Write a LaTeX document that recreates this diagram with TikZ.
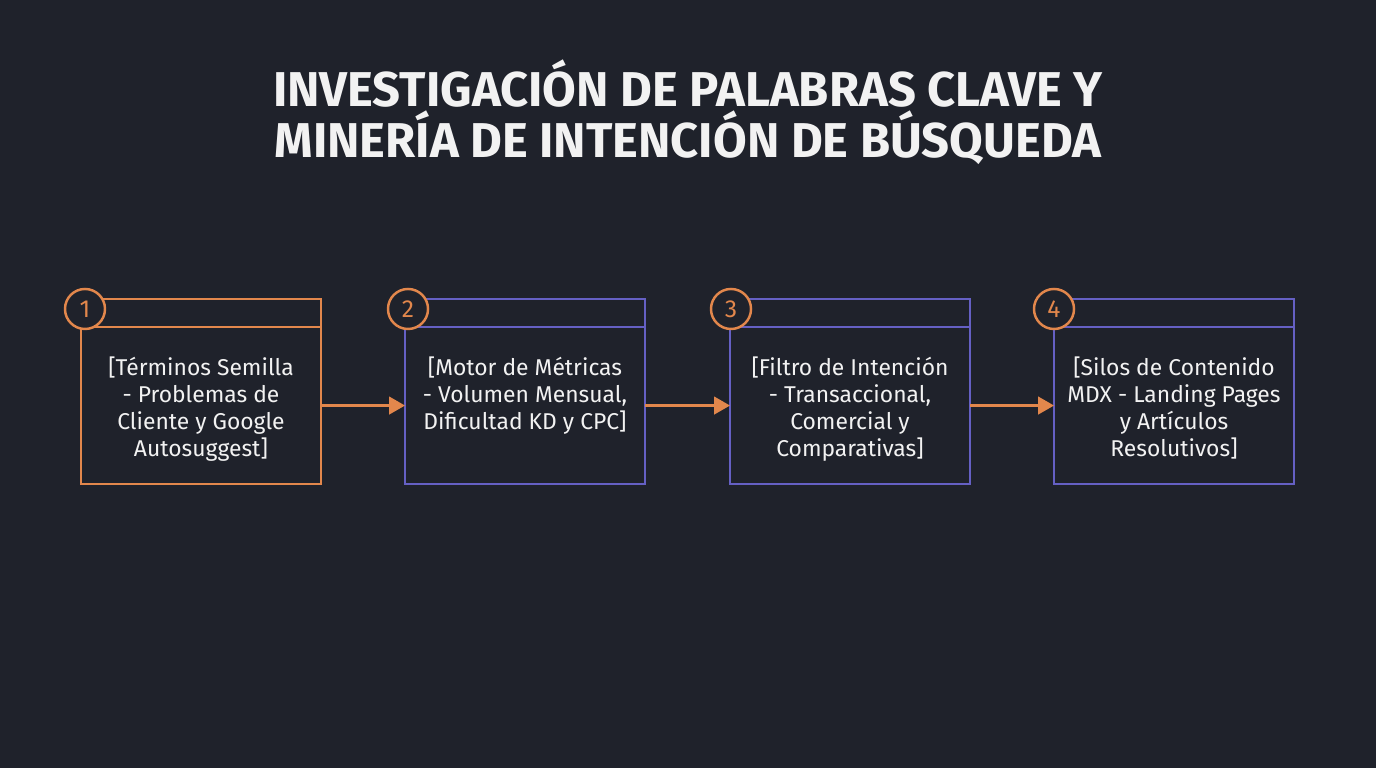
\documentclass[tikz,border=0pt]{standalone}
\usepackage{fontspec}
\setmainfont{Fira Sans}
\usetikzlibrary{arrows.meta, positioning}
\definecolor{bgdark}{HTML}{1F222B}
\definecolor{accent}{HTML}{E2874C}
\definecolor{violet}{HTML}{6560C4}
\definecolor{lighttext}{HTML}{F2F2F2}
\def\tA{[Términos Semilla\\- Problemas de\\Cliente y Google\\Autosuggest]}
\def\tB{[Motor de Métricas\\- Volumen Mensual,\\Dificultad KD y CPC]}
\def\tC{[Filtro de Intención\\- Transaccional,\\Comercial y\\Comparativas]}
\def\tD{[Silos de Contenido\\MDX - Landing Pages\\y Artículos\\Resolutivos]}

\begin{document}
\begin{tikzpicture}[
    x=0.01cm, y=-0.01cm,   % one unit = one pixel of the reference
    header/.style={
        draw=#1,
        line width=0.5pt,
        rectangle,
        anchor=south west,
        minimum width=2.4cm,
        minimum height=0.28cm,
        inner sep=0pt,
        outer sep=0pt
    },
    card/.style={
        draw=#1,
        line width=0.5pt,
        rectangle,
        anchor=north west,
        minimum width=2.4cm,
        minimum height=1.57cm,
        inner sep=0pt,
        outer sep=0pt
    },
    badge/.style={
        draw=accent,
        line width=0.7pt,
        fill=bgdark,
        circle,
        minimum size=0.4cm,
        inner sep=0pt,
        text=accent,
        font=\fontsize{7}{8}\selectfont
    },
    label/.style={
        anchor=north,
        align=center,
        text=lighttext,
        font=\fontsize{6.5}{7.7}\selectfont
    },
    flow/.style={
        draw=accent,
        line width=0.6pt,
        -{Triangle[length=4.5pt, width=5pt]}
    }
]
\fill[bgdark] (0,0) rectangle (1376,768);
\useasboundingbox (0,0) rectangle (1376,768);

\node[text=lighttext, align=center, font=\bfseries\fontsize{13.9}{14.5}\selectfont] (title) at (688,112)
    {INVESTIGACIÓN DE PALABRAS CLAVE Y\\MINERÍA DE INTENCIÓN DE BÚSQUEDA};

% cards
\node[card=accent] (seed) at (81,327) {};
\node[header=accent] (seedhead) at (seed.north west) {};
\node[card=violet] (metrics) at (405,327) {};
\node[header=violet] (metricshead) at (metrics.north west) {};
\node[card=violet] (filter) at (730,327) {};
\node[header=violet] (filterhead) at (filter.north west) {};
\node[card=violet] (silos) at (1054,327) {};
\node[header=violet] (siloshead) at (silos.north west) {};

\node[label] (seedtext) at (201,344) {\tA};
\node[label] (metricstext) at (525,344) {\tB};
\node[label] (filtertext) at (850,344) {\tC};
\node[label] (silostext) at (1174,344) {\tD};

% numbers
\node[badge] (n1) at (85,309) {1};
\node[badge] (n2) at (408,309) {2};
\node[badge] (n3) at (731,309) {3};
\node[badge] (n4) at (1054,309) {4};

\draw[flow] (seed) -- (metrics);
\draw[flow] (metrics) -- (filter);
\draw[flow] (filter) -- (silos);
\end{tikzpicture}
\end{document}
